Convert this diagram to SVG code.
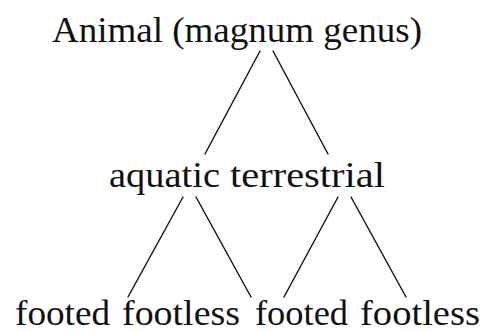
<svg xmlns="http://www.w3.org/2000/svg" width="483" height="333" viewBox="0 0 483 333">
<style>
.t{font-family:"Liberation Serif","Times New Roman",serif;font-size:36px;fill:#111}
.b{font-size:35px}
.c line{stroke:#111;stroke-width:1.4;stroke-linecap:round}
</style>
<rect width="483" height="333" fill="#fff"/>
<g class="c" id="connectors">
<line x1="260" y1="51" x2="205" y2="154"/>
<line x1="273" y1="51" x2="328" y2="154"/>
<line x1="183" y1="197" x2="128" y2="297"/>
<line x1="196" y1="197" x2="251" y2="297"/>
<line x1="338" y1="197" x2="284" y2="297"/>
<line x1="351" y1="197" x2="406" y2="297"/>
</g>
<g id="animal"><text class="t" x="52" y="42" textLength="370" lengthAdjust="spacingAndGlyphs">Animal (magnum genus)</text></g>
<g id="aquatic"><text class="t" x="109" y="187" textLength="111" lengthAdjust="spacingAndGlyphs">aquatic</text></g>
<g id="terrestrial"><text class="t" x="230" y="187" textLength="155" lengthAdjust="spacingAndGlyphs">terrestrial</text></g>
<g id="aq-footed"><text class="t b" x="15" y="325" textLength="95" lengthAdjust="spacingAndGlyphs">footed</text></g>
<g id="aq-footless"><text class="t b" x="122" y="325" textLength="118" lengthAdjust="spacingAndGlyphs">footless</text></g>
<g id="te-footed"><text class="t b" x="255" y="325" textLength="93" lengthAdjust="spacingAndGlyphs">footed</text></g>
<g id="te-footless"><text class="t b" x="360" y="325" textLength="120" lengthAdjust="spacingAndGlyphs">footless</text></g>
</svg>
